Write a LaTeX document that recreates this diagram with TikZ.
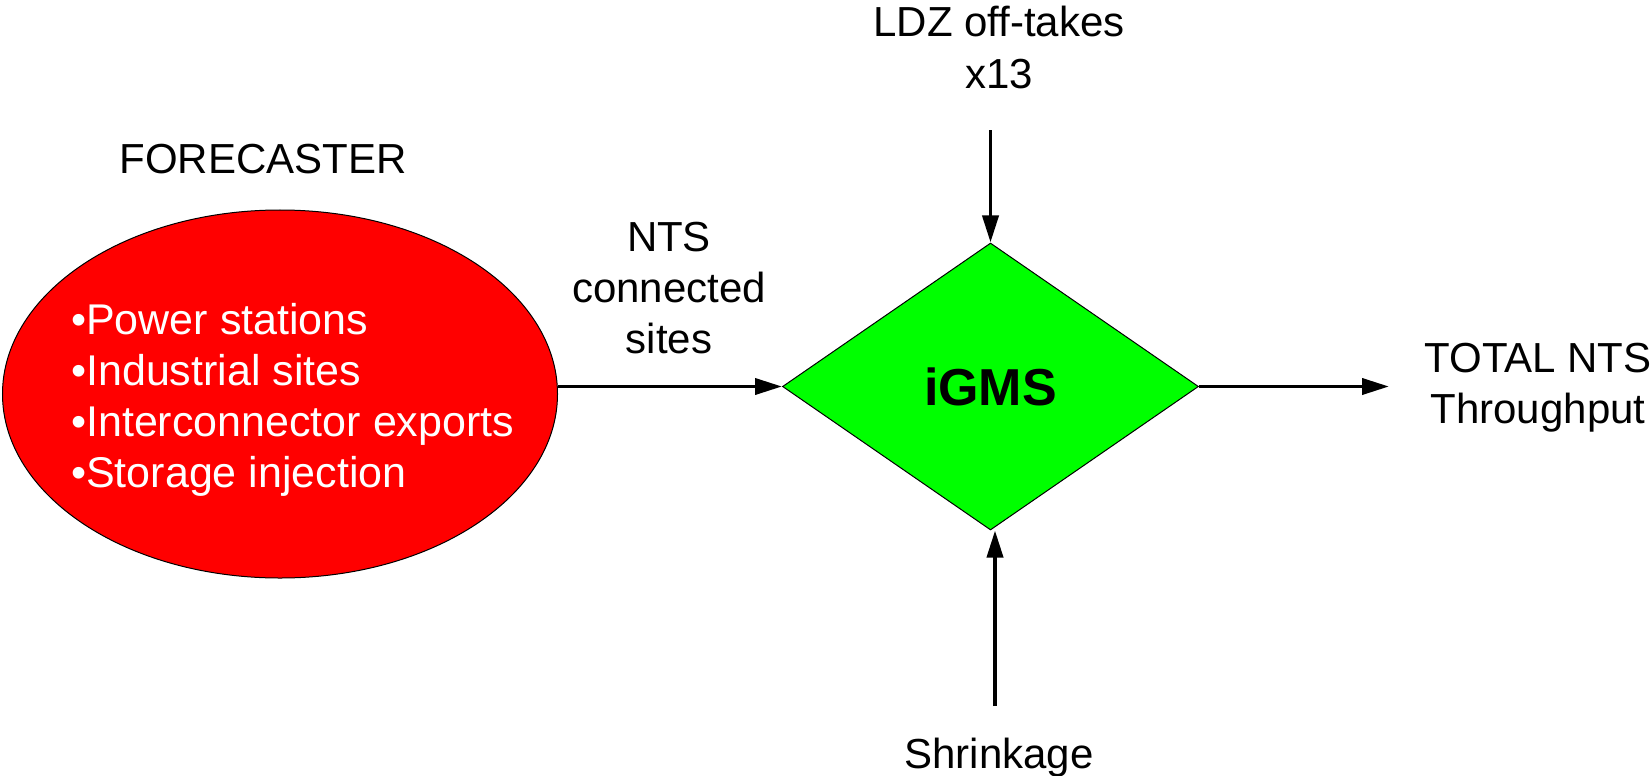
\documentclass[tikz,border=0pt]{standalone}
\usepackage{fontspec}
\setmainfont{Liberation Sans}
\usetikzlibrary{shapes.geometric,arrows.meta}
\definecolor{fcred}{RGB}{255,0,0}
\definecolor{gmsgreen}{RGB}{0,255,0}
\tikzset{
  lbl/.style={anchor=base,inner sep=0pt,font=\fontsize{42bp}{51bp}\selectfont},
  item/.style={anchor=base west,inner sep=0pt,text=white,font=\fontsize{43bp}{51bp}\selectfont},
  flow/.style={line width=3.8bp,-{Triangle[length=27bp,width=16bp]}},
}
\begin{document}
\begin{tikzpicture}[x=1bp,y=-1bp]
  \useasboundingbox (0,0) rectangle (1652,776);

  % forecaster ellipse and its inputs
  \node[ellipse,draw=black,line width=1bp,fill=fcred,minimum width=555bp,minimum height=368bp,inner sep=0pt] (fc) at (280,394) {};
  \node[lbl] (fctitle) at (263,173) {FORECASTER};
  \node[item] (i1) at (71,334) {•Power stations};
  \node[item] (i2) at (71,385) {•Industrial sites};
  \node[item] (i3) at (71,436) {•Interconnector exports};
  \node[item] (i4) at (71,487) {•Storage injection};

  % iGMS decision diamond
  \node[diamond,draw=black,line width=1bp,fill=gmsgreen,minimum width=416bp,minimum height=287bp,inner sep=0pt,
        font=\bfseries\fontsize{52bp}{60bp}\selectfont] (igms) at (990.5,386.5) {iGMS};

  % labels
  \node[lbl] (nts1) at (669,251) {NTS};
  \node[lbl] (nts2) at (669,302) {connected};
  \node[lbl] (nts3) at (669,353) {sites};
  \node[lbl] (ldz1) at (999,37) {LDZ off-takes};
  \node[lbl] (ldz2) at (999,88) {x13};
  \node[lbl] (tot1) at (1538,372) {TOTAL NTS};
  \node[lbl] (tot2) at (1538,423) {Throughput};
  \node[lbl] (shr) at (999,768) {Shrinkage};

  % connector ends
  \coordinate (ldzend) at (990.5,130);
  \coordinate (shrend) at (995,706);
  \coordinate (outend) at (1389,386.5);

  % flows
  \draw[flow] (fc.east |- igms.west) -- (igms.west);
  \draw[flow] (ldzend) -- (igms.north);
  \draw[flow] (shrend) -- (shrend |- igms.south);
  \draw[flow] (igms.east) -- (outend);
\end{tikzpicture}
\end{document}
